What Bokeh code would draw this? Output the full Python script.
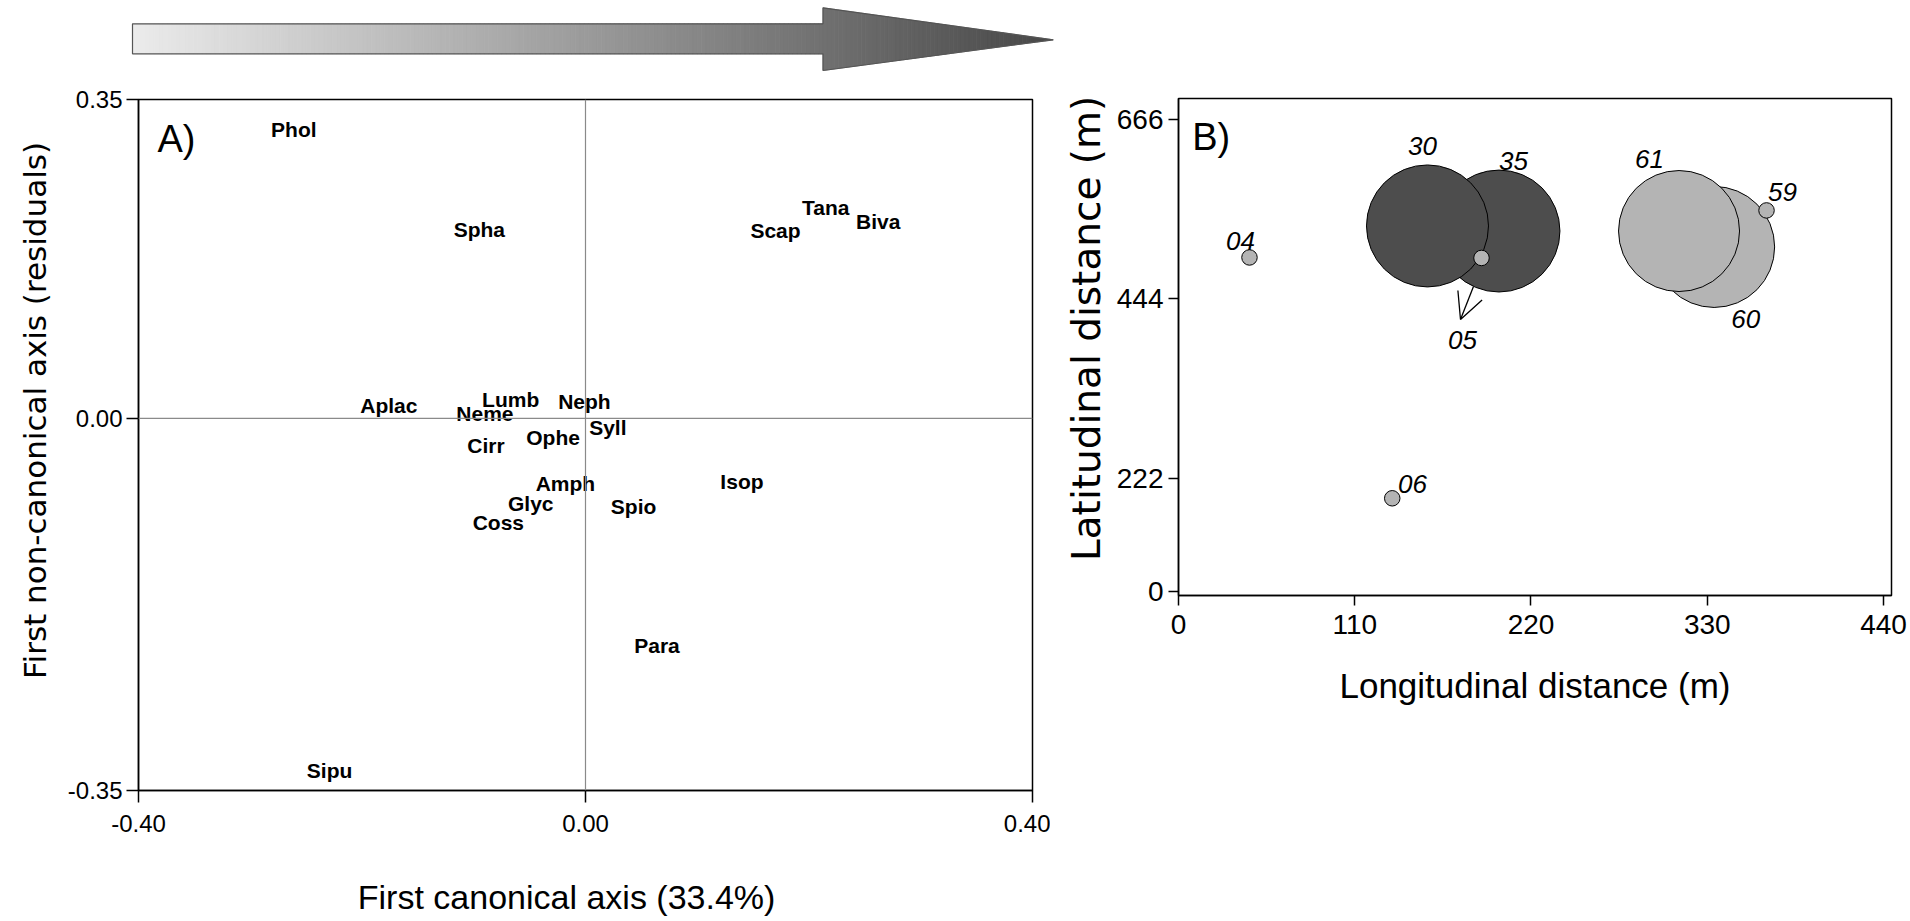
import numpy as np
from bokeh.plotting import figure
from bokeh.models import (Range1d, FixedTicker, Span, Label, Arrow, OpenHead,
                          ColumnDataSource)
from bokeh.layouts import column, row
from bokeh.embed import file_html
from bokeh.resources import INLINE
from bokeh.core.properties import value

# ---------------- Panel A data (species scores) ----------------
species = ["Phol", "Spha", "Aplac", "Lumb", "Neme", "Cirr", "Ophe", "Neph", "Syll",
           "Amph", "Isop", "Glyc", "Spio", "Scap", "Tana", "Biva", "Coss", "Para", "Sipu"]
canonical_axis1 = [-0.261, -0.095, -0.176, -0.067, -0.090, -0.089, -0.029, -0.001, 0.020,
                   -0.018, 0.140, -0.049, 0.043, 0.170, 0.215, 0.262, -0.078, 0.064, -0.229]
noncanonical_axis1 = [0.272, 0.178, 0.012, 0.018, 0.005, -0.025, -0.018, 0.016, -0.009,
                      -0.061, -0.059, -0.080, -0.083, 0.177, 0.198, 0.185, -0.098, -0.214, -0.331]
a_xticks = [-0.40, 0.0, 0.40]
a_yticks = [-0.35, 0.0, 0.30]
a_ytick_labels = ["-0.35", "0.00", "0.35"]

# ---------------- Panel B data (stations) ----------------
stations = ["35", "30", "60", "61", "04", "05", "06", "59"]
longitudinal = [200.0, 155.4, 334.3, 312.4, 44.3, 189.1, 133.4, 367.0]
latitudinal = [528.0, 534.3, 508.3, 528.0, 495.3, 494.7, 197.3, 553.5]
station_group = ["dark", "dark", "light", "light", "small", "small", "small", "small"]
b_xticks = [0, 110, 220, 330, 440]
b_yticks = [82, 222, 444, 666]
b_ytick_labels = ["0", "222", "444", "666"]

FONT = "Liberation Sans"
NB = "\u00a0"

# ---------------- Top gradient arrow ----------------
ar = figure(width=1100, height=78, x_range=Range1d(0, 1100), y_range=Range1d(78, 0),
            x_axis_type=None, y_axis_type=None, toolbar_location=None,
            output_backend="svg", min_border=0)
ar.outline_line_color = None
ar.grid.visible = False
x0, xh, xt = 132.0, 822.5, 1052.6
sy0, sy1 = 23.3, 53.3
hy0, hy1, ty = 7.3, 70.0, 39.3

def head_top(x):
    return hy0 + (x - xh) * (ty - hy0) / (xt - xh)

def head_bot(x):
    return hy1 - (x - xh) * (hy1 - ty) / (xt - xh)

c0, c1 = np.array([236, 236, 236]), np.array([72, 72, 72])

def grey(xm):
    t = (xm - x0) / (xt - x0)
    c = (c0 + (c1 - c0) * t).astype(int)
    return "#%02x%02x%02x" % tuple(c)

xs_list, ys_list, cols = [], [], []
se = np.linspace(x0, xh, 160)
for a, b in zip(se[:-1], se[1:]):
    xs_list.append([a, b + 0.3, b + 0.3, a])
    ys_list.append([sy0, sy0, sy1, sy1])
    cols.append(grey((a + b) / 2))
he = np.linspace(xh, xt, 61)
for a, b in zip(he[:-1], he[1:]):
    xs_list.append([a, b + 0.3, b + 0.3, a])
    ys_list.append([head_top(a), head_top(b), head_bot(b), head_bot(a)])
    cols.append(grey((a + b) / 2))
ar.patches(xs_list, ys_list, fill_color=cols, line_color=cols, line_width=0.6)
ar.patch([x0, xh, xh, xt, xh, xh, x0], [sy0, sy0, hy0, ty, hy1, sy1, sy1],
         fill_color=None, line_color="#555555", line_width=1.2)

# ---------------- Panel A ----------------
pa = figure(width=1050, height=842, x_range=Range1d(-0.40, 0.40), y_range=Range1d(-0.35, 0.30),
            toolbar_location=None, output_backend="svg",
            min_border_left=138, min_border_right=18, min_border_top=21, min_border_bottom=130)
pa.grid.visible = False
pa.outline_line_color = "black"
pa.outline_line_width = 1.5
pa.background_fill_color = "white"
pa.border_fill_color = "white"
for ax in (pa.xaxis[0], pa.yaxis[0]):
    ax.major_tick_in = 0
    ax.major_tick_out = 12
    ax.major_tick_line_width = 1.5
    ax.major_tick_line_color = "black"
    ax.minor_tick_line_color = None
    ax.axis_line_color = "black"
    ax.axis_line_width = 1.5
    ax.major_label_text_font = FONT
    ax.major_label_text_font_size = "24px"
    ax.major_label_text_color = "black"
    ax.axis_label_text_font_style = "normal"
    ax.axis_label_text_color = "black"
pa.xaxis.ticker = FixedTicker(ticks=a_xticks)
pa.xaxis.major_label_overrides = {t: "%.2f" % t for t in a_xticks}
pa.xaxis.major_label_standoff = 12
pa.xaxis.axis_label = "First canonical axis (33.4%)" + NB * 4
pa.xaxis.axis_label_text_font = FONT
pa.xaxis.axis_label_text_font_size = "34px"
pa.xaxis.axis_label_standoff = 43
pa.yaxis.ticker = FixedTicker(ticks=a_yticks)
pa.yaxis.major_label_overrides = dict(zip(a_yticks, a_ytick_labels))
pa.yaxis.major_label_standoff = 4
pa.yaxis.axis_label = NB * 7 + "First non-canonical axis (residuals)"
pa.yaxis.axis_label_text_font = "DejaVu Sans"
pa.yaxis.axis_label_text_font_size = "31px"
pa.yaxis.axis_label_standoff = 12

pa.add_layout(Span(location=0, dimension="width", line_color="#8a8a8a", line_width=1.2))
pa.add_layout(Span(location=0, dimension="height", line_color="#8a8a8a", line_width=1.2))

src_a = ColumnDataSource(dict(x=canonical_axis1, y=noncanonical_axis1, name=species))
pa.text(x="x", y="y", text="name", source=src_a, text_font=value(FONT),
        text_font_style="bold", text_font_size="21px", text_color="black",
        text_align="center", text_baseline="middle")

pa.add_layout(Label(x=-0.383, y=0.263, text="A)", text_font=FONT, text_font_size="38px",
                    text_align="left", text_baseline="middle", text_color="black"))

# ---------------- Panel B ----------------
pb = figure(width=858, height=842, x_range=Range1d(0, 445), y_range=Range1d(77, 692),
            toolbar_location=None, output_backend="svg",
            min_border_left=128, min_border_right=17, min_border_top=20, min_border_bottom=325)
pb.grid.visible = False
pb.outline_line_color = "black"
pb.outline_line_width = 1.5
pb.background_fill_color = "white"
pb.border_fill_color = "white"
for ax in (pb.xaxis[0], pb.yaxis[0]):
    ax.major_tick_in = 0
    ax.major_tick_out = 10
    ax.major_tick_line_width = 1.5
    ax.major_tick_line_color = "black"
    ax.minor_tick_line_color = None
    ax.axis_line_color = "black"
    ax.axis_line_width = 1.5
    ax.major_label_text_font = FONT
    ax.major_label_text_font_size = "28px"
    ax.major_label_text_color = "black"
    ax.axis_label_text_font_style = "normal"
    ax.axis_label_text_color = "black"
pb.xaxis.ticker = FixedTicker(ticks=b_xticks)
pb.xaxis.major_label_standoff = 9
pb.xaxis.axis_label = "Longitudinal distance (m)"
pb.xaxis.axis_label_text_font = FONT
pb.xaxis.axis_label_text_font_size = "35px"
pb.xaxis.axis_label_standoff = 29
pb.yaxis.ticker = FixedTicker(ticks=b_yticks)
pb.yaxis.major_label_overrides = dict(zip(b_yticks, b_ytick_labels))
pb.yaxis.major_label_standoff = 5
pb.yaxis.axis_label = NB * 3 + "Latitudinal distance (m)"
pb.yaxis.axis_label_text_font = "DejaVu Sans"
pb.yaxis.axis_label_text_font_size = "39px"
pb.yaxis.axis_label_standoff = 5

for p in (pa, pb):
    if "frame_align" in p.properties():
        p.frame_align = False

group_color = {"dark": "#4d4d4d", "light": "#b4b4b4", "small": "#b4b4b4"}
group_size = {"dark": 122, "light": 121, "small": 15.5}
src_b = ColumnDataSource(dict(
    x=longitudinal, y=latitudinal, name=stations,
    color=[group_color[g] for g in station_group],
    size=[group_size[g] for g in station_group],
))
pb.scatter(x="x", y="y", size="size", source=src_b, fill_color="color",
           line_color="black", line_width=1)

label_dx = {"35": 14.5, "30": -5, "60": 31.5, "61": -29.5, "04": -9, "05": -19, "06": 20.3, "59": 16}
label_dy = {"35": -70.5, "30": -79.5, "60": 72.5, "61": -72.5, "04": -16, "05": 82.5, "06": -14, "59": -18}
src_bl = ColumnDataSource(dict(
    x=longitudinal, y=latitudinal, name=stations,
    dx=[label_dx[s] for s in stations], dy=[label_dy[s] for s in stations],
))
pb.text(x="x", y="y", text="name", source=src_bl, x_offset="dx", y_offset="dy",
        text_font=value(FONT), text_font_style="italic", text_font_size="26px",
        text_color="black", text_align="center", text_baseline="middle")

pb.add_layout(Arrow(end=OpenHead(size=26, line_width=1.3, line_color="black"),
                    x_start=184.1, y_start=459.5, x_end=176.0, y_end=418.6,
                    line_color="black", line_width=1.3))

pb.add_layout(Label(x=8.55, y=644, text="B)", text_font=FONT, text_font_size="38px",
                    text_align="left", text_baseline="middle", text_color="black"))

layout = column(ar, row(column(pa), column(pb)))
open("out.html", "w").write(file_html(layout, INLINE))
